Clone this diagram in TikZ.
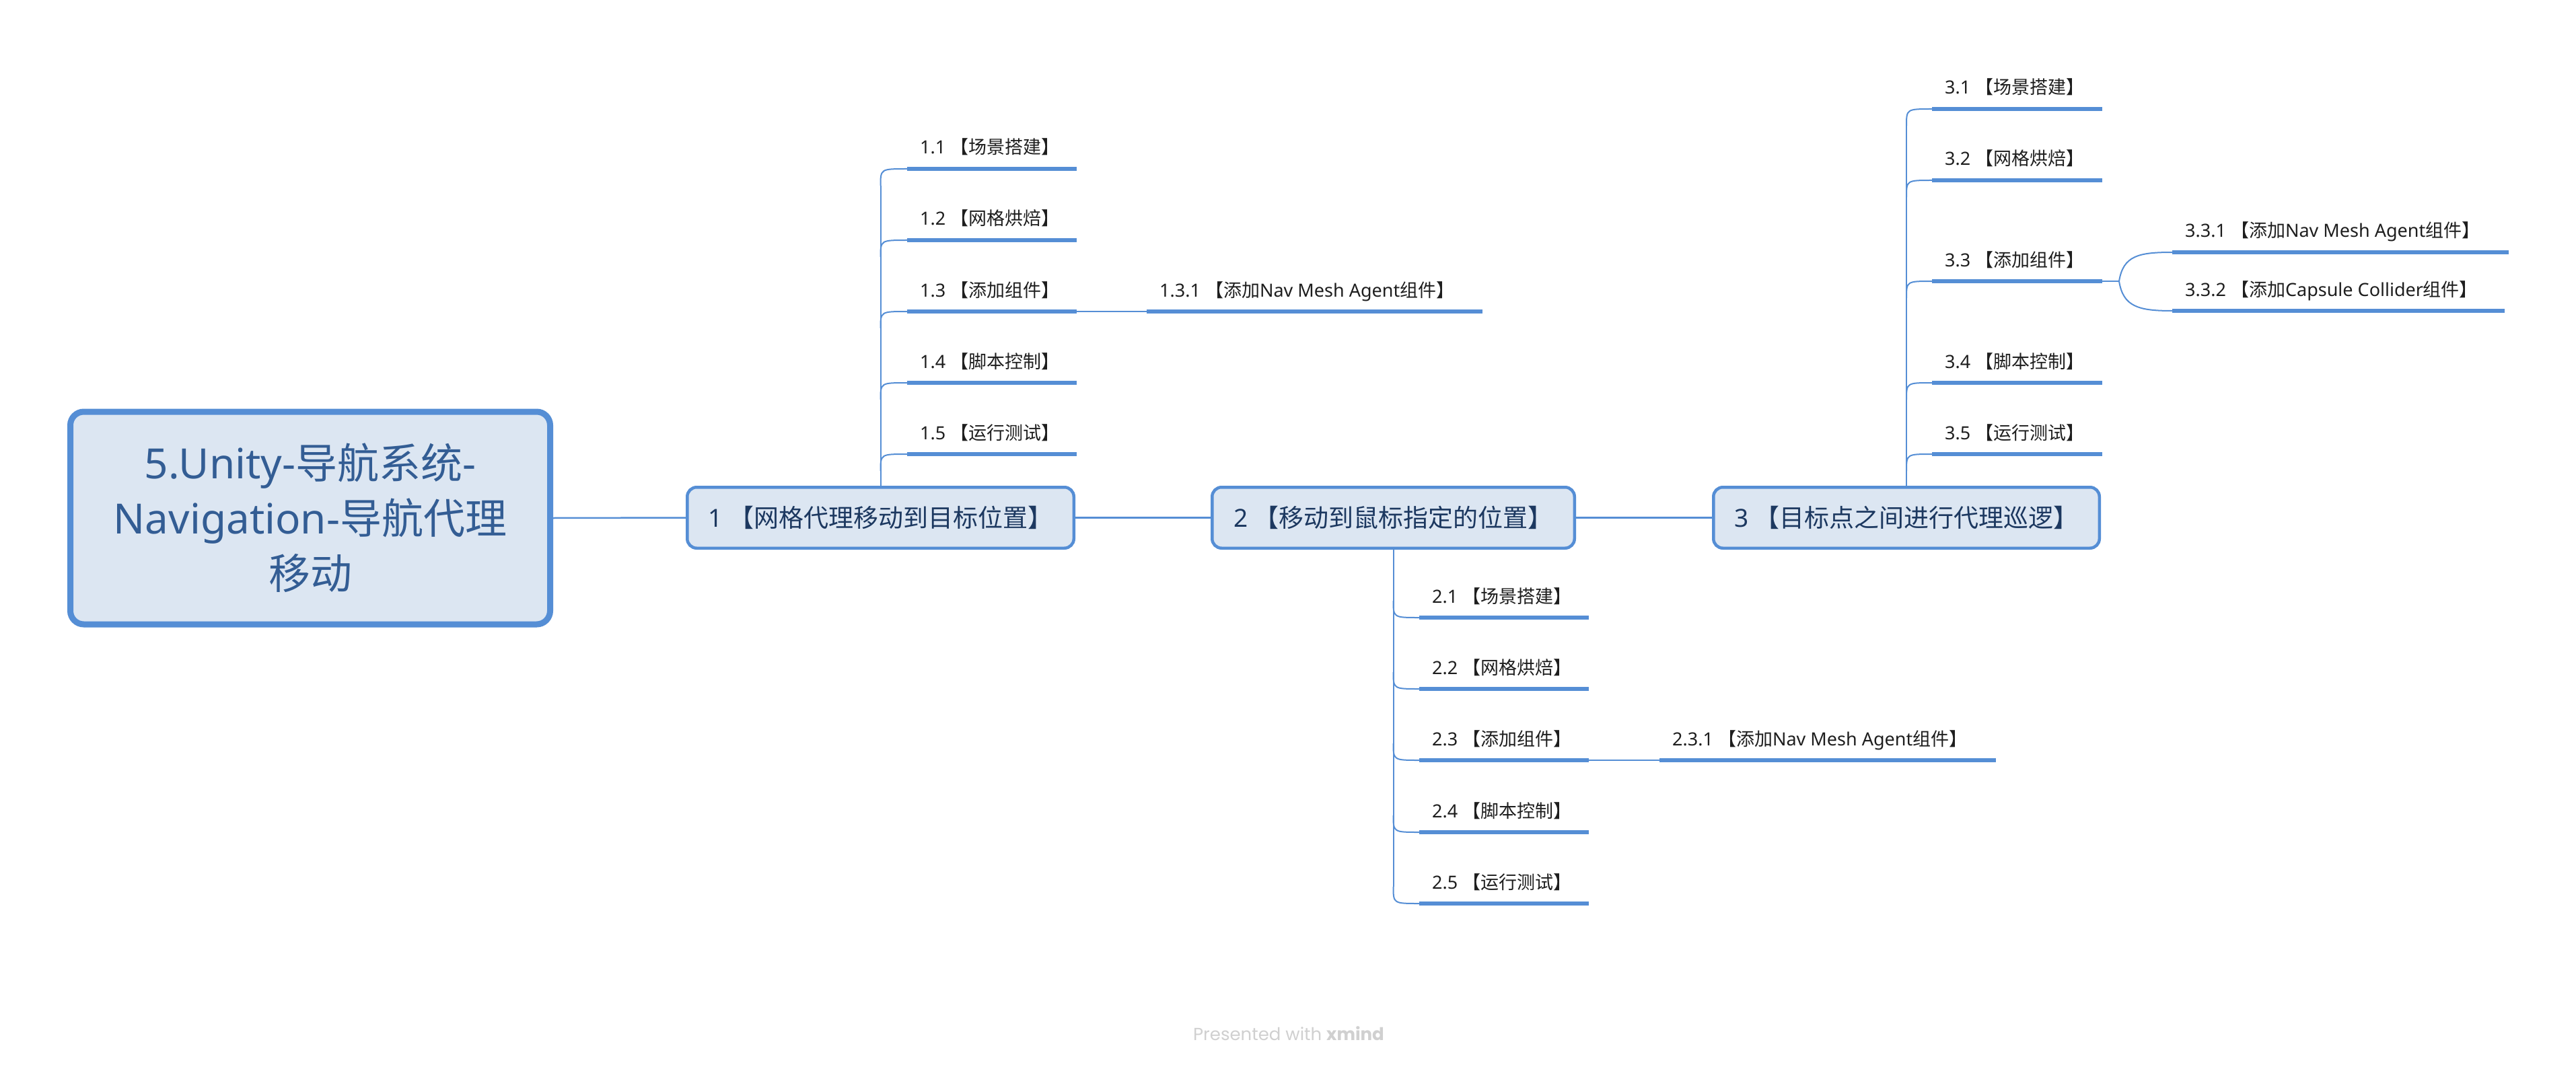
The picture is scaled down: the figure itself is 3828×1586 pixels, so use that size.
\documentclass[tikz,border=0pt]{standalone}
\usepackage{fontspec}
\setmainfont{Noto Sans}
\newfontfamily\cjkf{Noto Sans CJK SC}
\newfontfamily\wmfont{Poppins}
\newcommand\zh[1]{{\cjkf #1}}
\usetikzlibrary{calc}
\definecolor{lineblue}{HTML}{558ED5}
\definecolor{boxfill}{HTML}{DCE6F2}
\definecolor{roottext}{HTML}{335D94}
\definecolor{lonetext}{HTML}{1C3860}
\definecolor{subcol}{HTML}{1E1E1E}
\definecolor{wmcol}{HTML}{D0D0D0}
% subtopic: name, x start, x end, underline y, text
\newcommand\mysub[5]{%
  \coordinate (#1s) at (#2,#4);
  \coordinate (#1e) at (#3,#4);
  \draw[uline] (#1s) -- (#1e);
  \node[subtext] (#1) at ($(#1s)+(19,-22)$) {#5};
}
% upward branch from parent top to child underline
\newcommand\upbranch[2]{%
  \draw[trunk] ($(#1.north |- #2s)+(0,25)$) .. controls (#1.north |- #2s) .. (#2s);
}
\newcommand\downbranch[2]{%
  \draw[trunk] ($(#1.south |- #2s)+(0,-25)$) .. controls (#1.south |- #2s) .. (#2s);
}
\begin{document}
\begin{tikzpicture}[x=1pt,y=-1pt,
  rootbox/.style={draw=lineblue, line width=9pt, fill=boxfill, rounded corners=20pt,
    minimum width=713pt, minimum height=316pt, align=center, text=roottext,
    font=\fontsize{62}{82}\selectfont, inner sep=0pt},
  mainbox/.style={draw=lineblue, line width=4.5pt, fill=boxfill, rounded corners=14pt,
    minimum height=90.5pt, text=lonetext, font=\fontsize{37}{44}\selectfont, inner sep=0pt},
  subtext/.style={anchor=base west, inner sep=0pt, text=subcol, font=\fontsize{27}{32}\selectfont},
  uline/.style={draw=lineblue, line width=5.5pt},
  trunk/.style={draw=lineblue, line width=2pt},
  mainline/.style={draw=lineblue, line width=2.5pt},
]
\useasboundingbox[fill=white] (0,0) rectangle (3828,1586);

% main topics
\node[rootbox] (root) at (461,770) {5.Unity-\zh{导航系统}-\\Navigation-\zh{导航代理}\\\zh{移动}};
\node[mainbox, minimum width=574.5pt] (p1) at (1308.5,769.5) {1 \zh{【网格代理移动到目标位置】}};
\node[mainbox, minimum width=538.5pt] (p2) at (2070.5,769.5) {2 \zh{【移动到鼠标指定的位置】}};
\node[mainbox, minimum width=573.5pt] (p3) at (2833,769.5) {3 \zh{【目标点之间进行代理巡逻】}};

\draw[mainline] (root.east) -- (p1.west);
\draw[mainline] (p1.east) -- (p2.west);
\draw[mainline] (p2.east) -- (p3.west);

% branch 1
\mysub{c11}{1348}{1600}{251}{1.1 \zh{【场景搭建】}}
\mysub{c12}{1348}{1600}{357}{1.2 \zh{【网格烘焙】}}
\mysub{c13}{1348}{1600}{463}{1.3 \zh{【添加组件】}}
\mysub{c14}{1348}{1600}{569}{1.4 \zh{【脚本控制】}}
\mysub{c15}{1348}{1600}{675}{1.5 \zh{【运行测试】}}
\mysub{c131}{1704}{2203}{463}{1.3.1 \zh{【添加}Nav Mesh Agent\zh{组件】}}
\draw[trunk] (p1.north) -- ($(p1.north |- c11s)+(0,25)$);
\upbranch{p1}{c11}
\upbranch{p1}{c12}
\upbranch{p1}{c13}
\upbranch{p1}{c14}
\upbranch{p1}{c15}
\draw[trunk] (c13e) -- (c131s);

% branch 2
\mysub{c21}{2109}{2361}{918}{2.1 \zh{【场景搭建】}}
\mysub{c22}{2109}{2361}{1024}{2.2 \zh{【网格烘焙】}}
\mysub{c23}{2109}{2361}{1130}{2.3 \zh{【添加组件】}}
\mysub{c24}{2109}{2361}{1237}{2.4 \zh{【脚本控制】}}
\mysub{c25}{2109}{2361}{1343}{2.5 \zh{【运行测试】}}
\mysub{c231}{2466}{2966}{1130}{2.3.1 \zh{【添加}Nav Mesh Agent\zh{组件】}}
\draw[trunk] (p2.south) -- ($(p2.south |- c25s)+(0,-25)$);
\downbranch{p2}{c21}
\downbranch{p2}{c22}
\downbranch{p2}{c23}
\downbranch{p2}{c24}
\downbranch{p2}{c25}
\draw[trunk] (c23e) -- (c231s);

% branch 3
\mysub{c31}{2871}{3124}{162}{3.1 \zh{【场景搭建】}}
\mysub{c32}{2871}{3124}{268}{3.2 \zh{【网格烘焙】}}
\mysub{c33}{2871}{3124}{418}{3.3 \zh{【添加组件】}}
\mysub{c34}{2871}{3124}{569}{3.4 \zh{【脚本控制】}}
\mysub{c35}{2871}{3124}{675}{3.5 \zh{【运行测试】}}
\mysub{c331}{3228}{3728}{375}{3.3.1 \zh{【添加}Nav Mesh Agent\zh{组件】}}
\mysub{c332}{3228}{3722}{462}{3.3.2 \zh{【添加}Capsule Collider\zh{组件】}}
\draw[trunk] (p3.north) -- ($(p3.north |- c31s)+(0,25)$);
\upbranch{p3}{c31}
\upbranch{p3}{c32}
\upbranch{p3}{c33}
\upbranch{p3}{c34}
\upbranch{p3}{c35}
\coordinate (fork) at ($(c33e)+(25,0)$);
\draw[trunk] (c33e) -- (fork);
\draw[trunk] (fork) .. controls ($(fork)+(6,-38)$) and ($(c331s)+(-50,0)$) .. (c331s);
\draw[trunk] (fork) .. controls ($(fork)+(6,38)$) and ($(c332s)+(-50,0)$) .. (c332s);

% watermark
\node[anchor=base, inner sep=0pt, text=wmcol, font=\wmfont\fontsize{26}{30}\selectfont] (wm) at (1915,1546) {Presented with \textbf{xmind}};
\end{tikzpicture}
\end{document}
